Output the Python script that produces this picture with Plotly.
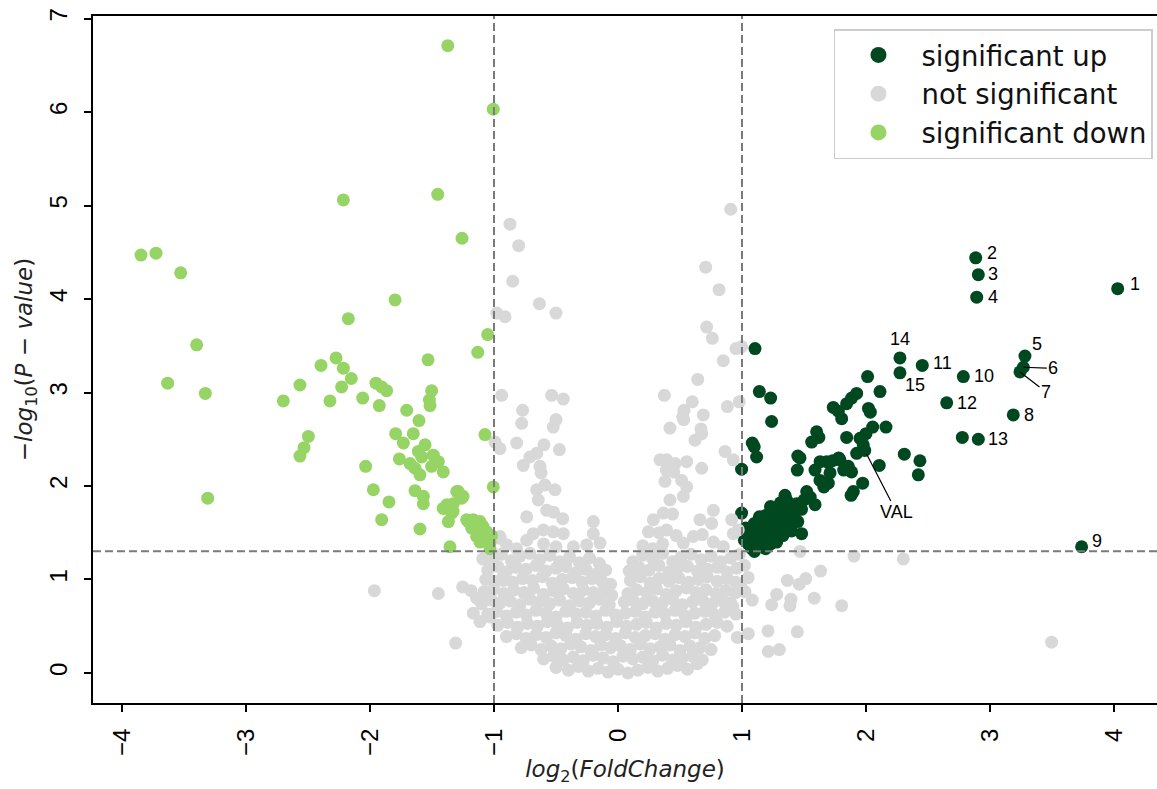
import plotly.graph_objects as go

# ---------------- data (log2 fold change, -log10 p) ----------------
# significant up: first 15 are the numbered genes 1..15, then the VAL gene, then the rest
up_x = [4.03, 2.885, 2.906, 2.893, 3.282, 3.269, 3.242, 3.188, 3.739, 2.785, 2.454, 2.651, 2.906, 2.274, 2.274,
        1.99,
        1.105, 1.140, 1.231, 1.239, 1.083, 1.099, 1.118, 0.997, 0.997,
        2.013, 2.113, 1.925, 1.884, 1.844, 1.736, 1.777, 1.804, 2.020, 2.035, 2.054, 2.161, 2.000, 1.952,
        1.844, 1.978, 1.925, 1.602, 1.620, 1.562, 1.468, 1.683, 1.790, 1.857, 1.884, 2.107, 2.309, 2.435,
        2.422, 1.446, 1.589, 1.629, 1.696, 1.522, 1.973, 1.898, 1.880, 1.347, 1.360, 1.441, 1.589, 1.280,
        1.199, 1.387, 1.427, 1.481, 2.777, 1.630, 1.730, 1.780, 1.820, 1.710, 1.660, 1.450,
        1.05, 1.08, 1.10, 1.12, 1.15, 1.17, 1.20, 1.22, 1.25, 1.27, 1.30, 1.32, 1.35, 1.05, 1.08, 1.12,
        1.18, 1.23, 1.28, 1.33, 1.38, 1.40, 1.42, 1.45, 1.14, 1.02, 1.03, 1.19, 1.10, 1.26, 1.36, 1.30,
        1.48, 1.50, 1.55, 1.17, 1.12, 1.31, 1.23]
up_y = [4.11, 4.44, 4.26, 4.02, 3.39, 3.27, 3.22, 2.76, 1.35, 3.17, 3.29, 2.89, 2.50, 3.37, 3.21,
        2.38,
        3.47, 3.01, 2.94, 2.69, 2.46, 2.42, 2.31, 2.18, 1.71,
        3.17, 3.01, 2.99, 2.94, 2.88, 2.84, 2.80, 2.72, 2.83, 2.79, 2.63, 2.63, 2.56, 2.51,
        2.52, 2.44, 2.35, 2.58, 2.52, 2.47, 2.30, 2.26, 2.28, 2.21, 2.15, 2.22, 2.34, 2.27,
        2.12, 2.17, 2.17, 2.06, 2.03, 1.94, 2.03, 1.94, 1.90, 1.90, 1.85, 1.81, 1.80, 1.74,
        1.69, 1.73, 1.65, 1.49, 2.52, 2.26, 2.27, 2.30, 2.17, 2.14, 1.99, 2.32,
        1.45, 1.52, 1.60, 1.42, 1.55, 1.48, 1.62, 1.50, 1.57, 1.45, 1.65, 1.55, 1.70, 1.38, 1.33, 1.36,
        1.40, 1.38, 1.40, 1.47, 1.60, 1.52, 1.72, 1.62, 1.67, 1.42, 1.55, 1.33, 1.30, 1.68, 1.78, 1.75,
        1.75, 1.85, 1.88, 1.67, 1.60, 1.82, 1.78]
up_labels = ["1", "2", "3", "4", "5", "6", "7", "8", "9", "10", "11", "12", "13", "14", "15", "VAL"]

# not significant: upper part (above the p threshold)
ns_upper_x = [0.909, -0.871, -0.801, 0.707, 0.815, -0.849, -0.634, -0.500, -0.978, -0.911, 0.715, 0.761, 0.952,
              0.997, 0.849, 0.643, 0.374, 0.599, 0.532, 0.522, 0.688, 0.882, 0.978, -0.938, -0.535, -0.441,
              -0.769, -0.777, -0.500, -0.522, 0.419, 0.669, -0.992, -0.952, -0.950,
              -0.817, -0.597, -0.656, -0.473, -0.710, -0.764, -0.629, -0.620, -0.656, -0.589, -0.508, -0.643,
              -0.575, -0.520, -0.446, -0.736, -0.199,
              0.530, 0.621, 0.675, 0.863, 0.339, 0.392, 0.460, 0.554, 0.675, 0.390, 0.450, 0.379, 0.513, 0.554,
              0.419, 0.527, 0.769, 0.366, 0.440, 0.285, 0.661, 0.755, 0.245, 0.330, 0.608, 0.680, 0.769, 0.930,
              0.970, 0.392, 0.470, 0.527, 0.360, 0.200, 0.280, 0.850, 0.930, 0.917,
              -0.683, -0.602, -0.522, -0.441, -0.952, -0.898, -0.817, -0.736, -0.360, -0.253, -0.145, -0.199,
              -0.600, -0.500]
ns_upper_y = [4.96, 4.80, 4.57, 4.34, 4.10, 4.19, 3.95, 3.85, 3.85, 3.81, 3.70, 3.58, 3.47,
              3.49, 3.34, 3.14, 2.97, 2.90, 2.81, 2.74, 2.76, 2.85, 2.90, 2.97, 2.97, 2.93,
              2.81, 2.67, 2.71, 2.63, 2.62, 2.61, 2.47, 2.40, 1.44,
              2.46, 2.44, 2.35, 2.39, 2.31, 2.22, 2.21, 2.14, 1.96, 2.01, 1.96, 1.85,
              1.74, 1.72, 1.65, 1.67, 1.62,
              2.71, 2.49, 2.56, 2.37, 2.28, 2.28, 2.24, 2.26, 2.19, 2.17, 2.15, 2.05, 2.06, 1.99,
              1.85, 1.89, 1.74, 1.71, 1.70, 1.64, 1.64, 1.60, 1.51, 1.50, 1.46, 1.48, 1.40, 1.49,
              1.53, 1.53, 1.47, 1.39, 1.38, 1.36, 1.33, 1.35, 2.28, 1.64,
              1.49, 1.53, 1.51, 1.49, 1.46, 1.37, 1.33, 1.42, 1.35, 1.37, 1.39, 1.49,
              1.38, 1.35]

# not significant: isolated points below the threshold
ns_side_x = [-1.965, -1.449, -1.309, -1.091, -1.067, -1.253, -1.185, -1.140, -1.073, -1.167, -1.113, -1.032,
             -0.925, 1.468, 1.903, 2.301, 1.634, 1.366, 1.514, 1.462, 1.280, 1.395, 1.387, 1.239, 1.583,
             1.804, 1.083, 1.024, 1.210, 1.446, 1.051, 0.962, 1.212, 1.301, 3.497, 0.927, 1.020, 1.050, 0.990]
ns_side_y = [0.88, 0.85, 0.32, 1.22, 1.00, 0.92, 0.88, 0.80, 0.82, 0.64, 0.55, 0.60,
             0.99, 1.30, 1.25, 1.22, 1.09, 0.99, 1.01, 0.95, 0.84, 0.79, 0.72, 0.73, 0.80,
             0.72, 0.78, 0.87, 0.45, 0.44, 0.42, 0.38, 0.23, 0.25, 0.33, 0.71, 1.15, 1.02, 0.95]

# not significant: dense central cloud
ns_core_x = [-1.02, -0.94, -0.86, -0.79, -0.71, -0.63, -0.55, -0.47, -0.39, -0.31, -0.23, -0.15,
             0.12, 0.20, 0.28, 0.36, 0.44, 0.51, 0.59, 0.67, 0.75, 0.83, 0.91, 0.98,
             -1.05, -0.97, -0.90, -0.82, -0.74, -0.66, -0.58, -0.50, -0.42, -0.34, -0.26, -0.18, -0.10,
             0.09, 0.17, 0.25, 0.33, 0.41, 0.48, 0.56, 0.64, 0.72, 0.80, 0.88, 0.96,
             -1.00, -0.93, -0.85, -0.77, -0.69, -0.61, -0.53, -0.45, -0.37, -0.29, -0.21, -0.13, -0.06,
             0.10, 0.18, 0.26, 0.33, 0.41, 0.49, 0.57, 0.65, 0.72, 0.80, 0.88, 0.95,
             -1.08, -1.00, -0.92, -0.84, -0.76, -0.68, -0.60, -0.52, -0.44, -0.36, -0.28, -0.20, -0.12, -0.05,
             0.08, 0.15, 0.23, 0.31, 0.39, 0.47, 0.55, 0.63, 0.71, 0.79, 0.87, 0.95,
             -1.10, -1.02, -0.95, -0.87, -0.79, -0.71, -0.63, -0.55, -0.47, -0.39, -0.31, -0.23, -0.15, -0.07,
             0.05, 0.12, 0.20, 0.28, 0.36, 0.44, 0.52, 0.60, 0.68, 0.76, 0.84, 0.91,
             -1.05, -0.98, -0.90, -0.82, -0.74, -0.66, -0.58, -0.50, -0.42, -0.34, -0.26, -0.18, -0.10, -0.02,
             0.06, 0.14, 0.22, 0.30, 0.38, 0.46, 0.54, 0.62, 0.70, 0.78, 0.86, 0.95,
             -0.97, -0.89, -0.81, -0.73, -0.65, -0.57, -0.49, -0.41, -0.33, -0.25, -0.17, -0.09, -0.01,
             0.07, 0.15, 0.23, 0.31, 0.39, 0.47, 0.55, 0.63, 0.71, 0.80, 0.88,
             -0.90, -0.82, -0.74, -0.66, -0.58, -0.50, -0.42, -0.34, -0.26, -0.18, -0.10, -0.02,
             0.06, 0.14, 0.22, 0.30, 0.38, 0.46, 0.54, 0.62, 0.70, 0.78,
             -0.78, -0.70, -0.62, -0.54, -0.46, -0.38, -0.30, -0.22, -0.14, -0.06,
             0.02, 0.10, 0.18, 0.26, 0.34, 0.42, 0.50, 0.58, 0.66, 0.75,
             -0.60, -0.52, -0.44, -0.36, -0.28, -0.20, -0.12, -0.04,
             0.04, 0.12, 0.20, 0.28, 0.36, 0.44, 0.52, 0.60, 0.68,
             -0.50, -0.40, -0.32, -0.24, -0.16, -0.08, 0.00, 0.08, 0.16, 0.24, 0.32, 0.40, 0.48, 0.56, 0.64]
ns_core_y = [1.22, 1.27, 1.20, 1.25, 1.28, 1.21, 1.26, 1.19, 1.24, 1.18, 1.23, 1.17,
             1.19, 1.26, 1.22, 1.28, 1.19, 1.24, 1.27, 1.21, 1.25, 1.19, 1.23, 1.27,
             1.10, 1.14, 1.08, 1.13, 1.11, 1.15, 1.09, 1.12, 1.14, 1.07, 1.11, 1.06, 1.10,
             1.09, 1.13, 1.10, 1.15, 1.08, 1.12, 1.14, 1.09, 1.11, 1.13, 1.08, 1.12,
             0.98, 1.02, 0.97, 1.01, 0.99, 1.03, 0.96, 1.00, 1.02, 0.97, 1.01, 0.98, 0.95,
             0.99, 1.03, 0.96, 1.01, 0.98, 1.02, 0.97, 1.00, 1.03, 0.98, 1.01, 0.97,
             0.87, 0.90, 0.85, 0.89, 0.86, 0.91, 0.84, 0.88, 0.90, 0.85, 0.89, 0.86, 0.87, 0.83,
             0.85, 0.89, 0.86, 0.90, 0.84, 0.88, 0.91, 0.86, 0.89, 0.85, 0.88, 0.86,
             0.74, 0.78, 0.75, 0.77, 0.73, 0.79, 0.76, 0.74, 0.78, 0.72, 0.77, 0.75, 0.79, 0.73,
             0.76, 0.78, 0.74, 0.77, 0.75, 0.79, 0.73, 0.76, 0.78, 0.74, 0.77, 0.75,
             0.63, 0.66, 0.61, 0.65, 0.62, 0.67, 0.64, 0.60, 0.66, 0.63, 0.65, 0.61, 0.67, 0.62,
             0.64, 0.66, 0.60, 0.65, 0.63, 0.67, 0.61, 0.64, 0.66, 0.62, 0.65, 0.63,
             0.51, 0.54, 0.49, 0.53, 0.50, 0.55, 0.52, 0.48, 0.54, 0.51, 0.53, 0.49, 0.55,
             0.50, 0.52, 0.54, 0.48, 0.53, 0.51, 0.55, 0.49, 0.52, 0.54, 0.50,
             0.39, 0.42, 0.37, 0.41, 0.38, 0.43, 0.40, 0.36, 0.42, 0.39, 0.41, 0.37,
             0.43, 0.38, 0.40, 0.42, 0.36, 0.41, 0.39, 0.43, 0.37, 0.40,
             0.27, 0.30, 0.25, 0.29, 0.26, 0.31, 0.28, 0.24, 0.30, 0.27,
             0.29, 0.25, 0.31, 0.26, 0.28, 0.30, 0.24, 0.29, 0.27, 0.25,
             0.15, 0.18, 0.14, 0.17, 0.13, 0.19, 0.16, 0.12,
             0.18, 0.15, 0.17, 0.13, 0.19, 0.14, 0.16, 0.18, 0.14,
             0.06, 0.03, 0.07, 0.02, 0.05, 0.01, 0.04, 0.00, 0.03, 0.06, 0.02, 0.05, 0.08, 0.04, 0.10]

# significant down
down_x = [-1.373, -1.006, -2.215, -1.454, -1.258, -3.847, -3.726, -3.527, -1.798, -2.175, -1.051, -3.398,
          -1.131, -1.532, -2.274, -2.395, -2.215, -2.151, -3.632, -2.565, -2.229, -1.952, -1.906, -1.866,
          -1.503, -1.521, -1.516, -3.328, -2.699, -2.323, -2.059, -1.925, -1.704, -1.605, -1.793, -1.651,
          -1.731, -1.556, -1.610, -1.073, -2.497, -2.532, -2.565, -1.763, -1.677, -1.583, -1.489, -1.449,
          -1.503, -1.637, -1.597, -1.409, -2.035, -1.006, -1.973, -1.637, -1.570, -1.570, -1.847, -1.288,
          -1.261, -1.328, -1.395, -1.341, -1.368, -3.309, -1.906, -1.597, -1.355, -1.207, -1.167, -1.113,
          -1.180, -1.126, -1.059, -1.140, -1.073, -1.032, -1.113, -1.220, -1.046, -1.032, -1.300, -1.250,
          -1.380, -1.330, -1.410, -1.090, -1.020]
down_y = [6.71, 6.03, 5.06, 5.12, 4.65, 4.47, 4.49, 4.28, 3.99, 3.79, 3.62, 3.51,
          3.43, 3.35, 3.37, 3.29, 3.26, 3.15, 3.10, 3.08, 3.06, 3.10, 3.06, 3.02,
          3.02, 2.92, 2.86, 2.99, 2.91, 2.91, 2.94, 2.86, 2.81, 2.70, 2.56, 2.56,
          2.46, 2.44, 2.37, 2.55, 2.53, 2.41, 2.32, 2.29, 2.24, 2.31, 2.33, 2.26,
          2.21, 2.19, 2.12, 2.15, 2.21, 1.99, 1.96, 1.95, 1.89, 1.81, 1.83, 1.94,
          1.87, 1.81, 1.77, 1.71, 1.62, 1.87, 1.64, 1.54, 1.35, 1.62, 1.64, 1.62,
          1.55, 1.53, 1.51, 1.46, 1.44, 1.39, 1.40, 1.64, 1.39, 1.33, 1.94, 1.89,
          1.80, 1.73, 1.76, 1.57, 1.47]

fc_cut = [-1, 1]
p_cut = 1.301
x_ticks = [-4, -3, -2, -1, 0, 1, 2, 3, 4]
y_ticks = [0, 1, 2, 3, 4, 5, 6, 7]
group_names = ["significant up", "not significant", "significant down"]

# ---------------- styles ----------------
C_UP = "#00481f"
C_NS = "#d8d8d8"
C_DOWN = "#96d565"
MSIZE = 13

ns_x = ns_core_x + ns_side_x + ns_upper_x
ns_y = ns_core_y + ns_side_y + ns_upper_y

fig = go.Figure()
for (gx, gy, name, col) in [(up_x, up_y, group_names[0], C_UP),
                            (ns_x, ns_y, group_names[1], C_NS),
                            (down_x, down_y, group_names[2], C_DOWN)]:
    fig.add_trace(go.Scatter(x=gx, y=gy, mode="markers", name=name, showlegend=False,
                             marker=dict(color=col, size=MSIZE, line=dict(width=0))))
# legend entries (bigger legend symbols)
for name, col in zip(group_names, [C_UP, C_NS, C_DOWN]):
    fig.add_trace(go.Scatter(x=[None], y=[None], mode="markers", name=name, showlegend=True,
                             marker=dict(color=col, size=16, line=dict(width=0))))

dash_style = dict(color="#7a7a7a", width=2, dash="8px,4px")
for xv in fc_cut:
    fig.add_shape(type="line", xref="x", yref="paper", x0=xv, x1=xv, y0=0, y1=1,
                  line=dash_style, layer="above")
fig.add_shape(type="line", xref="paper", yref="y", x0=0, x1=1, y0=p_cut, y1=p_cut,
              line=dash_style, layer="above")

# label placement (pixel offsets) for each labelled gene
label_style = {
    "1": (10, 5), "2": (9, 5), "3": (8, 1), "4": (9, 0), "5": (5, 12),
    "8": (9, 0), "9": (8, 6), "10": (9, 1), "11": (9, 2), "12": (8, 0), "13": (8, 0),
    "15": (3, -12),
}
ann_font = dict(family="Liberation Sans, Arial", size=18, color="black")
for i, lab in enumerate(up_labels):
    px, py = up_x[i], up_y[i]
    if lab in label_style:
        dx, dy = label_style[lab]
        fig.add_annotation(x=px, y=py, text=lab, showarrow=False, xanchor="left", yanchor="middle",
                           xshift=dx, yshift=dy, font=ann_font)
    elif lab == "14":
        fig.add_annotation(x=px, y=py, text=lab, showarrow=False, xanchor="center", yanchor="middle",
                           yshift=19, font=ann_font)
    elif lab == "6":
        fig.add_annotation(x=px, y=py, text=lab, showarrow=True, arrowhead=0, arrowwidth=1.2,
                           arrowcolor="black", ax=30, ay=1, font=ann_font, standoff=0)
    elif lab == "7":
        fig.add_annotation(x=px, y=py, text=lab, showarrow=True, arrowhead=0, arrowwidth=1.2,
                           arrowcolor="black", ax=26, ay=20, font=ann_font, standoff=0)
    elif lab == "VAL":
        fig.add_annotation(x=px, y=py, text=lab, showarrow=True, arrowhead=0, arrowwidth=1.2,
                           arrowcolor="black", ax=32, ay=62, font=ann_font, standoff=4)

tick_font = dict(family="Liberation Sans, Arial", size=24, color="black")
title_font = dict(family="DejaVu Sans", size=23, color="#222222")

fig.update_layout(
    width=1157, height=789,
    margin=dict(l=93, r=0, t=16, b=86, pad=0),
    plot_bgcolor="white", paper_bgcolor="white",
    showlegend=True,
    legend=dict(x=0.9962, y=0.981, xanchor="right", yanchor="top",
                bgcolor="white", bordercolor="#cccccc", borderwidth=1.5,
                font=dict(family="DejaVu Sans", size=27.5, color="#111111"),
                itemsizing="trace", itemwidth=76, tracegroupgap=0),
    xaxis=dict(range=[-4.234, 4.347], tickvals=x_ticks, tickangle=-90, tickfont=tick_font,
               ticks="outside", ticklen=7, tickwidth=1.5, tickcolor="black", ticklabelstandoff=7,
               showline=True, linecolor="black", linewidth=2, mirror=True,
               showgrid=False, zeroline=False,
               title=dict(text="<i>log</i><sub>2</sub>(<i>FoldChange</i>)", font=title_font, standoff=6)),
    yaxis=dict(range=[-0.321, 7.027], tickvals=y_ticks, tickangle=-90, tickfont=tick_font,
               ticks="outside", ticklen=7, tickwidth=1.5, tickcolor="black", ticklabelstandoff=7,
               showline=True, linecolor="black", linewidth=2, mirror=False,
               showgrid=False, zeroline=False,
               title=dict(text="−<i>log</i><sub>10</sub>(<i>P</i> − <i>value</i>)", font=title_font, standoff=6)),
)

fig.write_html("out.html")
